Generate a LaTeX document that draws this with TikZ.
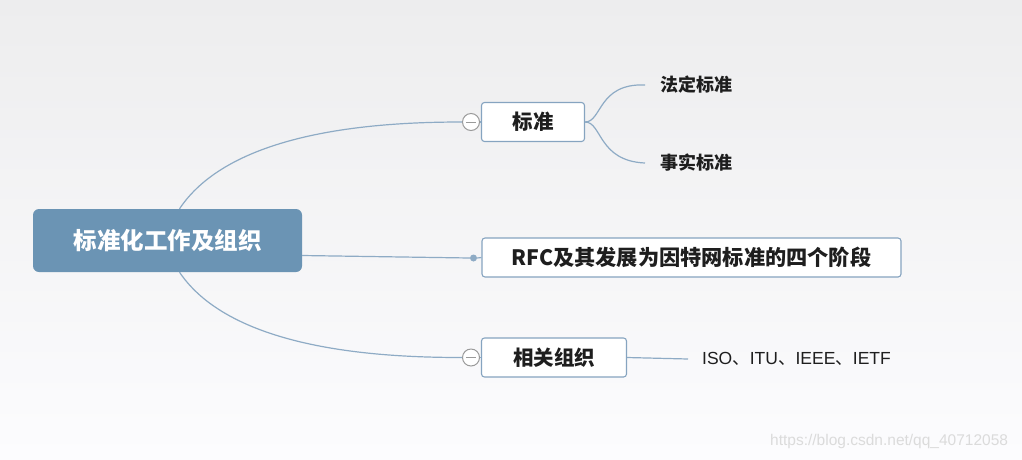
\documentclass[tikz,border=0pt]{standalone}
\usepackage{fontspec}
\setmainfont{Liberation Sans}
\newfontfamily\cjk{Noto Sans CJK SC}
\usepackage{xcolor}
\usetikzlibrary{positioning}

\definecolor{rootblue}{HTML}{6B94B4}
\definecolor{boxline}{HTML}{86A4C0}
\definecolor{linkblue}{HTML}{8EABC5}
\definecolor{foldgray}{HTML}{9A9A9A}
\definecolor{textdark}{HTML}{1E1E1E}
\definecolor{bgtop}{HTML}{EDEDEE}
\definecolor{bgbot}{HTML}{FCFCFE}

\begin{document}
\begin{tikzpicture}[x=1pt, y=-1pt,
    link/.style={draw=linkblue, line width=1.2pt},
    topic/.style={draw=boxline, fill=white, rounded corners=3pt, line width=1.1pt,
        inner sep=0pt, minimum height=39pt, text=textdark,
        font={\cjk\bfseries\fontsize{20.5}{24}\selectfont}},
    leaf/.style={anchor=west, inner sep=0pt, text=textdark,
        font={\cjk\bfseries\fontsize{18}{22}\selectfont}},
    fold/.style={circle, draw=foldgray, fill=white, line width=1pt,
        minimum size=17pt, inner sep=0pt}]
    \shade[top color=bgtop, bottom color=bgbot] (0,0) rectangle (1022,459);

    \node[fill=rootblue, rounded corners=6pt, minimum width=269pt, minimum height=63pt,
        inner sep=0pt, text=white, font={\cjk\bfseries\fontsize{23.5}{28}\selectfont}]
        (root) at (167.5,240.5) {标准化工作及组织};

    \node[topic, minimum width=103pt] (std) at (533,122) {标准};
    \node[topic, minimum width=419pt, font={\cjk\bfseries\fontsize{21.2}{24}\selectfont}]
        (rfc) at (691.5,257.5) {RFC及其发展为因特网标准的四个阶段};
    \node[topic, minimum width=145pt] (org) at (554,357.5) {相关组织};

    \node[fold] (stdfold) at (471,122) {};
    \node[fold] (orgfold) at (471,357.5) {};
    \node[circle, fill=linkblue, minimum size=7pt, inner sep=0pt] (rfcdot) at (473.5,258) {};
    \foreach \f in {stdfold, orgfold} {
        \draw[foldgray, line width=1pt] ([xshift=4pt]\f.west) -- ([xshift=-4pt]\f.east);
    }

    \draw[link] ([xshift=12pt]root.north) .. controls (232,130) and (380,122) .. (stdfold.west);
    \draw[link] ([xshift=12pt]root.south) .. controls (232,350) and (380,357.5) .. (orgfold.west);
    \draw[link] ([yshift=-15pt]root.east) -- (rfcdot.west);
    \draw[link] (stdfold.east) -- (std.west);
    \draw[link] (orgfold.east) -- (org.west);
    \draw[link] (rfcdot.east) -- (rfc.west);

    \node[leaf] (legal) at (660,85) {法定标准};
    \node[leaf] (fact) at (660,163) {事实标准};
    \draw[link] (std.east) .. controls (602,122) and (598,83) .. ([xshift=-15pt]legal.west);
    \draw[link] (std.east) .. controls (602,122) and (598,161) .. ([xshift=-15pt]fact.west);

    \node[anchor=west, inner sep=0pt, text=textdark, font={\fontsize{17.5}{20}\selectfont}]
        (bodies) at (702,359) {ISO{\cjk 、}ITU{\cjk 、}IEEE{\cjk 、}IETF};
    \draw[link] (org.east) -- ([xshift=-14pt]bodies.west);

    \node[anchor=west, inner sep=0pt, text=black!14, font={\fontsize{15.5}{18}\selectfont}]
        (mark) at (770,441) {https://blog.csdn.net/qq\_40712058};
\end{tikzpicture}
\end{document}
